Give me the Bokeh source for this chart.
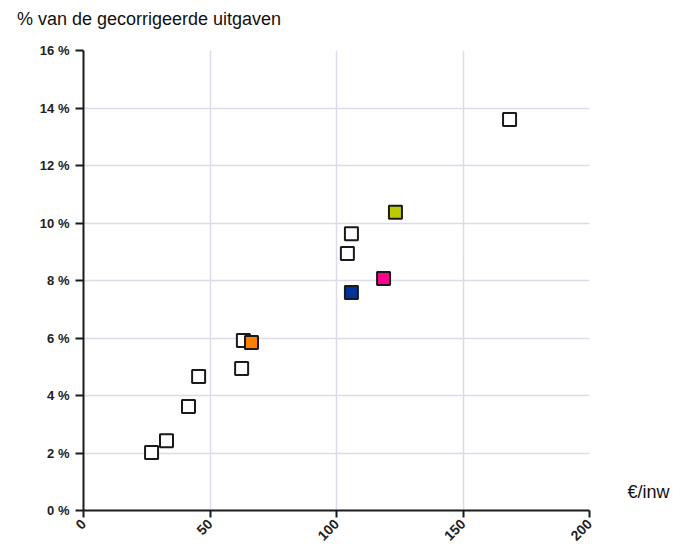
from bokeh.plotting import figure
from bokeh.models import (Range1d, PrintfTickFormatter, FixedTicker, ColumnDataSource,
                          LinearAxis, CustomJSTickFormatter)
from bokeh.embed import file_html
from bokeh.resources import INLINE
from math import pi

# data: euro per inhabitant vs % of corrected expenditure
uitgaven_inw = [168.4, 105.9, 104.3, 63.2, 62.5, 45.5, 41.5, 32.8, 26.9]
pct_white = [13.60, 9.63, 8.94, 5.91, 4.94, 4.66, 3.62, 2.43, 2.02]

hl_x = [123.3, 118.6, 105.9, 66.4]
hl_y = [10.37, 8.07, 7.58, 5.84]
hl_colors = ["#bccc00", "#ff0090", "#003399", "#ff8000"]

x_ticks = [0, 50, 100, 150, 200]
y_ticks = [0, 2, 4, 6, 8, 10, 12, 14, 16]

title_text = "% van de gecorrigeerde uitgaven"
x_label = "€/inw"


def text_axis(text, tick, standoff, size):
    ax = LinearAxis(ticker=FixedTicker(ticks=[tick]),
                    formatter=CustomJSTickFormatter(code="return %r;" % text))
    ax.axis_line_color = None
    ax.major_tick_line_color = None
    ax.minor_tick_line_color = None
    ax.major_tick_out = 0
    ax.major_tick_in = 0
    ax.major_label_standoff = standoff
    ax.major_label_text_font = "Liberation Sans"
    ax.major_label_text_font_size = size
    ax.major_label_text_font_style = "normal"
    ax.major_label_text_color = "#111111"
    return ax


p = figure(width=672, height=550, output_backend="svg", toolbar_location=None,
           title=None, x_range=Range1d(0, 200), y_range=Range1d(0, 16),
           min_border_left=83, min_border_right=83, min_border_top=50, min_border_bottom=40)
p.outline_line_color = None
p.background_fill_color = "white"
p.border_fill_color = "white"

for ax in (p.xaxis[0], p.yaxis[0]):
    ax.axis_line_color = "#1a1a1a"
    ax.axis_line_width = 2
    ax.major_tick_line_color = "#1a1a1a"
    ax.major_tick_line_width = 2
    ax.major_tick_in = 0
    ax.minor_tick_line_color = None
    ax.major_label_text_font = "Liberation Sans"
    ax.major_label_text_font_style = "bold"
    ax.major_label_text_color = "#222222"

p.xaxis.major_tick_out = 7
p.yaxis.major_tick_out = 8
p.xaxis.ticker = FixedTicker(ticks=x_ticks)
p.yaxis.ticker = FixedTicker(ticks=y_ticks)
p.yaxis.formatter = PrintfTickFormatter(format="%d %%")
p.xaxis.major_label_orientation = pi / 4
p.xaxis.major_label_text_font_size = "14px"
p.yaxis.major_label_text_font_size = "13px"
p.xaxis.major_label_standoff = 4
p.yaxis.major_label_standoff = 6

# title text above the frame, unit label to the right near the bottom
p.add_layout(text_axis(title_text, 25.9, 22, "18px"), "above")
p.add_layout(text_axis(x_label, 0.64, 38, "18px"), "right")

p.grid.grid_line_color = "#dcdce9"
p.grid.grid_line_width = 1.5

p.scatter(uitgaven_inw, pct_white, marker="square", size=13,
          fill_color="white", line_color="#1a1a1a", line_width=2)
src = ColumnDataSource(dict(x=hl_x, y=hl_y, c=hl_colors))
p.scatter("x", "y", source=src, marker="square", size=13,
          fill_color="c", line_color="#1a1a1a", line_width=2)

open("out.html", "w").write(file_html(p, INLINE))
